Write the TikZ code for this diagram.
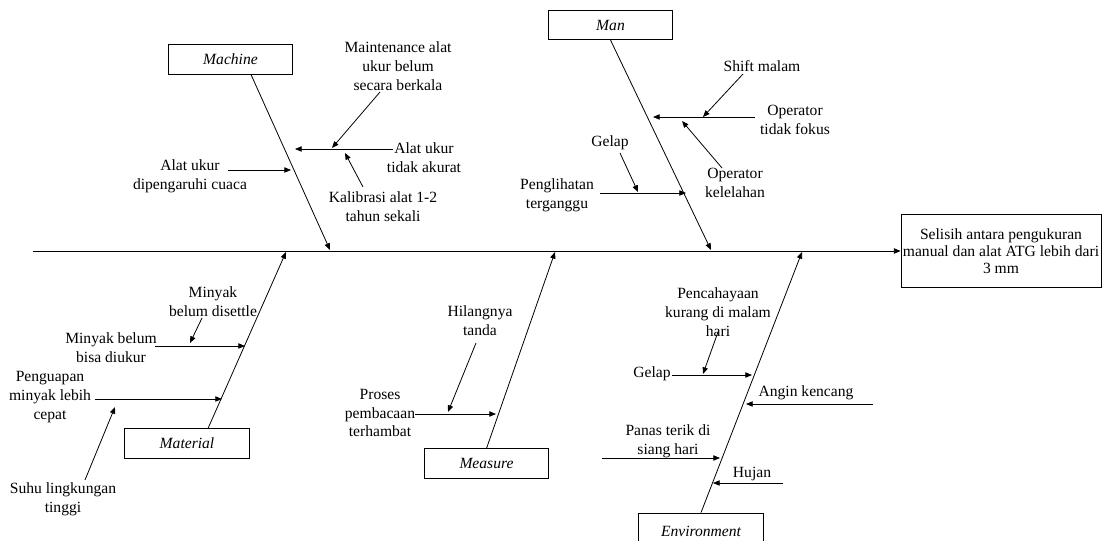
\documentclass[tikz,border=0pt]{standalone}
\usepackage{fontspec}
\setmainfont{Liberation Serif}
\usetikzlibrary{arrows.meta,positioning,calc}

\begin{document}
\begin{tikzpicture}[x=0.75pt,y=-0.75pt,line width=0.6pt,
    every node/.style={font=\fontsize{11.7}{14.2}\selectfont, align=center, inner sep=0pt},
    catbox/.style={draw, minimum width=93.5pt, minimum height=22pt, font=\fontsize{11.7}{14.2}\selectfont\itshape},
    effbox/.style={draw, minimum width=150pt, minimum height=55pt, font=\fontsize{11.7}{13}\selectfont},
    cause/.style={-{Triangle[length=5pt,width=4pt]}}]
    \useasboundingbox (0,0) rectangle (1107,541);

    % Effect and spine
    \node[effbox] (effect) at (1001,251) {Selisih antara pengukuran\\manual dan alat ATG lebih dari\\3 mm};
    \coordinate (head) at (33,251);
    \draw[cause] (head) -- (effect.west);

    % Category boxes
    \node[catbox] (machine) at (230.5,59.5) {Machine};
    \node[catbox] (man) at (610.5,25) {Man};
    \node[catbox] (material) at (187,443.5) {Material};
    \node[catbox] (measure) at (486.5,463.5) {Measure};
    \node[catbox, minimum height=27pt] (environment) at (701,531) {Environment};

    % Main branches
    \coordinate (machineTip) at (330,250);
    \coordinate (manTip) at (711,250);
    \coordinate (materialTip) at (286,252);
    \coordinate (measureTip) at (555,252);
    \coordinate (environmentTip) at (802,252);
    \draw[cause] ($(machine.south)+(20.5,0)$) -- (machineTip);
    \draw[cause] (man.south) -- (manTip);
    \draw[cause] ($(material.north)+(21,0)$) -- (materialTip);
    \draw[cause] (measure.north) -- (measureTip);
    \draw[cause] (environment.north) -- (environmentTip);

    % Machine
    \node (lblMaint) at (398,66) {Maintenance alat\\ukur belum\\secara berkala};
    \node (lblAkurat) at (424,158) {Alat ukur\\tidak akurat};
    \node (lblKalib) at (383,206.5) {Kalibrasi alat 1-2\\tahun sekali};
    \node (lblCuaca) at (190,176) {Alat ukur\\dipengaruhi cuaca};
    \coordinate (akurat0) at (393,149);
    \coordinate (akurat1) at (295,149);
    \coordinate (maint0) at (380,92);
    \coordinate (maint1) at (332,148);
    \coordinate (kalib0) at (363,187);
    \coordinate (kalib1) at (345,153);
    \coordinate (cuaca0) at (228,170);
    \coordinate (cuaca1) at (291,170);
    \draw[cause] (akurat0) -- (akurat1);
    \draw[cause] (maint0) -- (maint1);
    \draw[cause] (kalib0) -- (kalib1);
    \draw[cause] (cuaca0) -- (cuaca1);

    % Man
    \node (lblShift) at (762,66) {Shift malam};
    \node (lblFokus) at (795,120) {Operator\\tidak fokus};
    \node (lblLelah) at (735,182.5) {Operator\\kelelahan};
    \node (lblPengl) at (557,195) {Penglihatan\\terganggu};
    \node (lblGelapA) at (610,143) {Gelap};
    \coordinate (fokus0) at (755,117);
    \coordinate (fokus1) at (653,117);
    \coordinate (shift0) at (743,74);
    \coordinate (shift1) at (703,117);
    \coordinate (lelah0) at (722,168);
    \coordinate (lelah1) at (682,121);
    \coordinate (pengl0) at (600,193);
    \coordinate (pengl1) at (686,193);
    \coordinate (gelapA0) at (620,153);
    \coordinate (gelapA1) at (638,192);
    \draw[cause] (fokus0) -- (fokus1);
    \draw[cause] (shift0) -- (shift1);
    \draw[cause] (lelah0) -- (lelah1);
    \draw[cause] (pengl0) -- (pengl1);
    \draw[cause] (gelapA0) -- (gelapA1);

    % Material
    \node (lblDiukur) at (111,347.5) {Minyak belum\\bisa diukur};
    \node (lblSettle) at (213,301.5) {Minyak\\belum disettle};
    \node (lblUap) at (50,397) {Penguapan\\minyak lebih\\cepat};
    \node (lblSuhu) at (63,499.5) {Suhu lingkungan\\tinggi};
    \coordinate (diukur0) at (155,346);
    \coordinate (diukur1) at (245,346);
    \coordinate (settle0) at (202,318);
    \coordinate (settle1) at (190,343);
    \coordinate (uap0) at (95,399);
    \coordinate (uap1) at (222,399);
    \coordinate (suhu0) at (85,480);
    \coordinate (suhu1) at (115,407);
    \draw[cause] (diukur0) -- (diukur1);
    \draw[cause] (settle0) -- (settle1);
    \draw[cause] (uap0) -- (uap1);
    \draw[cause] (suhu0) -- (suhu1);

    % Measure
    \node (lblProses) at (380,413) {Proses\\pembacaan\\terhambat};
    \node (lblHilang) at (480,321) {Hilangnya\\tanda};
    \coordinate (proses0) at (415,414);
    \coordinate (proses1) at (496,414);
    \coordinate (hilang0) at (476,343);
    \coordinate (hilang1) at (448,412);
    \draw[cause] (proses0) -- (proses1);
    \draw[cause] (hilang0) -- (hilang1);

    % Environment
    \node (lblCahaya) at (718,312) {Pencahayaan\\kurang di malam\\hari};
    \node (lblGelapB) at (652,374) {Gelap};
    \node (lblAngin) at (806,393) {Angin kencang};
    \node (lblPanas) at (668,441) {Panas terik di\\siang hari};
    \node (lblHujan) at (752,474) {Hujan};
    \coordinate (cahaya0) at (718,332);
    \coordinate (cahaya1) at (703,374);
    \coordinate (gelapB0) at (672,375);
    \coordinate (gelapB1) at (752,375);
    \coordinate (angin0) at (873,404);
    \coordinate (angin1) at (746,404);
    \coordinate (panas0) at (602,458);
    \coordinate (panas1) at (720,458);
    \coordinate (hujan0) at (783,483);
    \coordinate (hujan1) at (713,483);
    \draw[cause] (cahaya0) -- (cahaya1);
    \draw[cause] (gelapB0) -- (gelapB1);
    \draw[cause] (angin0) -- (angin1);
    \draw[cause] (panas0) -- (panas1);
    \draw[cause] (hujan0) -- (hujan1);
\end{tikzpicture}
\end{document}
